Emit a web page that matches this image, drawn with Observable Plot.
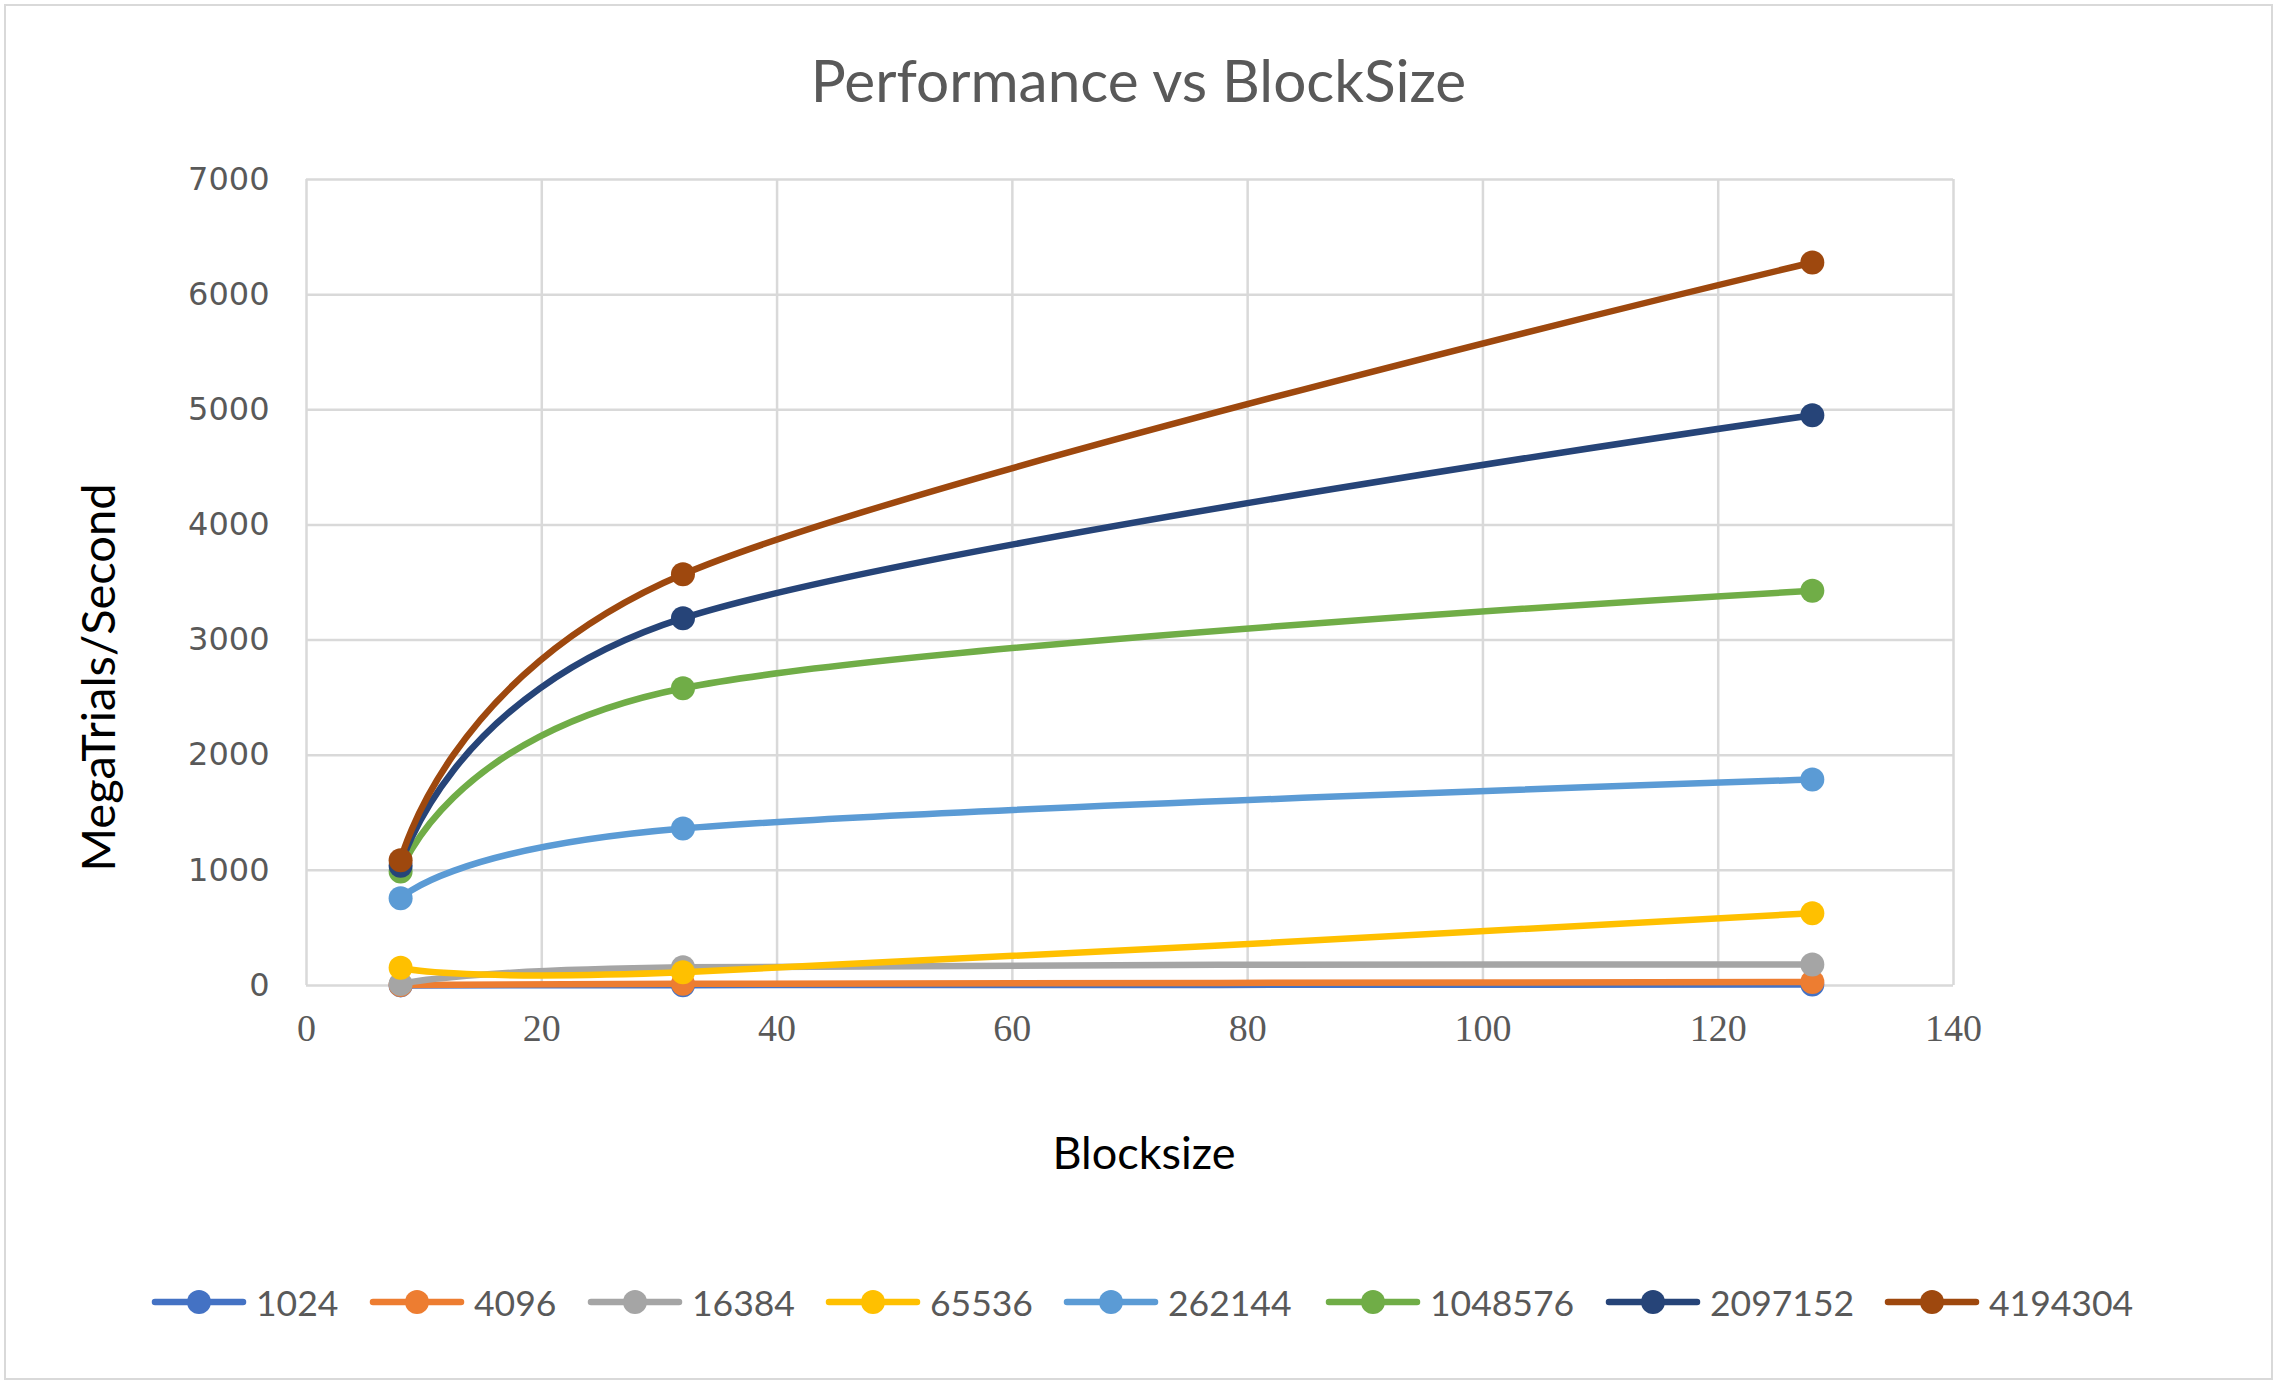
<!DOCTYPE html>
<html>
<head>
<meta charset="utf-8">
<script src="https://cdn.jsdelivr.net/npm/d3@7"></script>
<script src="https://cdn.jsdelivr.net/npm/@observablehq/plot@0.6"></script>
<style>
  html, body { margin: 0; padding: 0; background: #fff; }
  #page { position: relative; width: 2277px; height: 1384px; overflow: hidden; background: #fff; }
  #border { position: absolute; left: 4px; top: 4px; width: 2265px; height: 1372px; border: 2px solid #d9d9d9; box-sizing: content-box; pointer-events: none; }
  #title { height: 158px; display: flex; align-items: center; justify-content: center; font-family: Lato, "Noto Sans", sans-serif; font-size: 58.5px; color: #595959; }
  #chart svg { display: block; }
  #chart g[aria-label="x-axis tick label"] { font-family: "Liberation Serif", "DejaVu Serif", serif; font-size: 38px; }
  #chart g[aria-label="y-axis tick label"] { font-family: "DejaVu Sans", sans-serif; font-size: 32px; }
  #legend { position: relative; height: 164px; }
  .item { position: absolute; top: 0; height: 164px; display: flex; align-items: center; font-family: Lato, "Noto Sans", sans-serif; font-size: 35.5px; color: #595959; }
  .item svg { display: block; margin-right: 9px; }
</style>
</head>
<body>
<div id="page">
  <div id="title">Performance vs BlockSize</div>
  <div id="chart"></div>
  <div id="legend"></div>
  <div id="border"></div>
</div>
<script>
// ---- data ----
const blockSizes = [8, 32, 128];
const seriesNames = ["1024", "4096", "16384", "65536", "262144", "1048576", "2097152", "4194304"];
const s1024 = [1, 3, 8];
const s4096 = [4, 15, 30];
const s16384 = [12, 158, 183];
const s65536 = [155, 115, 628];
const s262144 = [757, 1363, 1789];
const s1048576 = [990, 2582, 3428];
const s2097152 = [1040, 3190, 4953];
const s4194304 = [1087, 3571, 6279];
const seriesColors = ["#4472C4", "#ED7D31", "#A5A5A5", "#FFC000", "#5B9BD5", "#70AD47", "#264478", "#9E480E"];
const xTicks = [0, 20, 40, 60, 80, 100, 120, 140];
const yTicks = [0, 1000, 2000, 3000, 4000, 5000, 6000, 7000];
const xTitle = "Blocksize";
const yTitle = "MegaTrials/Second";

const seriesValues = [s1024, s4096, s16384, s65536, s262144, s1048576, s2097152, s4194304];
const rows = seriesNames.flatMap((name, i) =>
  blockSizes.map((b, j) => ({series: name, blockSize: b, value: seriesValues[i][j]}))
);

const seriesMarks = seriesNames.flatMap(name => {
  const d = rows.filter(r => r.series === name);
  return [
    Plot.line(d, {x: "blockSize", y: "value", stroke: "series", strokeWidth: 6.5, curve: "cardinal", tension: 0, strokeLinecap: "round"}),
    Plot.dot(d, {x: "blockSize", y: "value", fill: "series", r: 12, stroke: "none"})
  ];
});

const chart = Plot.plot({
  width: 2277,
  height: 1062,
  marginLeft: 306,
  marginRight: 324,
  marginTop: 21,
  marginBottom: 235,
  style: {background: "transparent", overflow: "visible"},
  x: {domain: [0, 140], ticks: xTicks},
  y: {domain: [0, 7000], ticks: yTicks},
  color: {domain: seriesNames, range: seriesColors},
  marks: [
    Plot.gridX(xTicks, {stroke: "#d9d9d9", strokeOpacity: 1, strokeWidth: 2.5}),
    Plot.gridY(yTicks, {stroke: "#d9d9d9", strokeOpacity: 1, strokeWidth: 2.5}),
    Plot.axisX(xTicks, {tickSize: 0, tickPadding: 29, fontSize: 38, fill: "#595959", label: null, tickFormat: d => String(d)}),
    Plot.axisY(yTicks, {tickSize: 0, tickPadding: 37, fontSize: 32, fill: "#595959", label: null, tickFormat: d => String(d)}),
    Plot.text([xTitle], {frameAnchor: "bottom", dx: 14, dy: 169, fontSize: 45, fontFamily: "Lato, Noto Sans, sans-serif", fill: "#000", lineAnchor: "middle", textAnchor: "middle"}),
    Plot.text([yTitle], {frameAnchor: "left", rotate: -90, dx: -207, dy: 95, fontSize: 47, fontFamily: "Lato, Noto Sans, sans-serif", fill: "#000", lineAnchor: "middle", textAnchor: "middle"}),
    ...seriesMarks
  ]
});
document.getElementById("chart").appendChild(chart);

// ---- legend ----
const legendX = [155, 373, 591, 829, 1067, 1329, 1609, 1888];
const legend = document.getElementById("legend");
seriesNames.forEach((name, i) => {
  const item = document.createElement("div");
  item.className = "item";
  item.style.left = (legendX[i] - 4) + "px";
  const c = seriesColors[i];
  item.innerHTML = `<svg width="96" height="30" viewBox="0 0 96 30"><line x1="4" y1="15" x2="92" y2="15" stroke="${c}" stroke-width="6.5" stroke-linecap="round"/><circle cx="48" cy="15" r="12" fill="${c}"/></svg><span>${name}</span>`;
  legend.appendChild(item);
});
</script>
</body>
</html>
